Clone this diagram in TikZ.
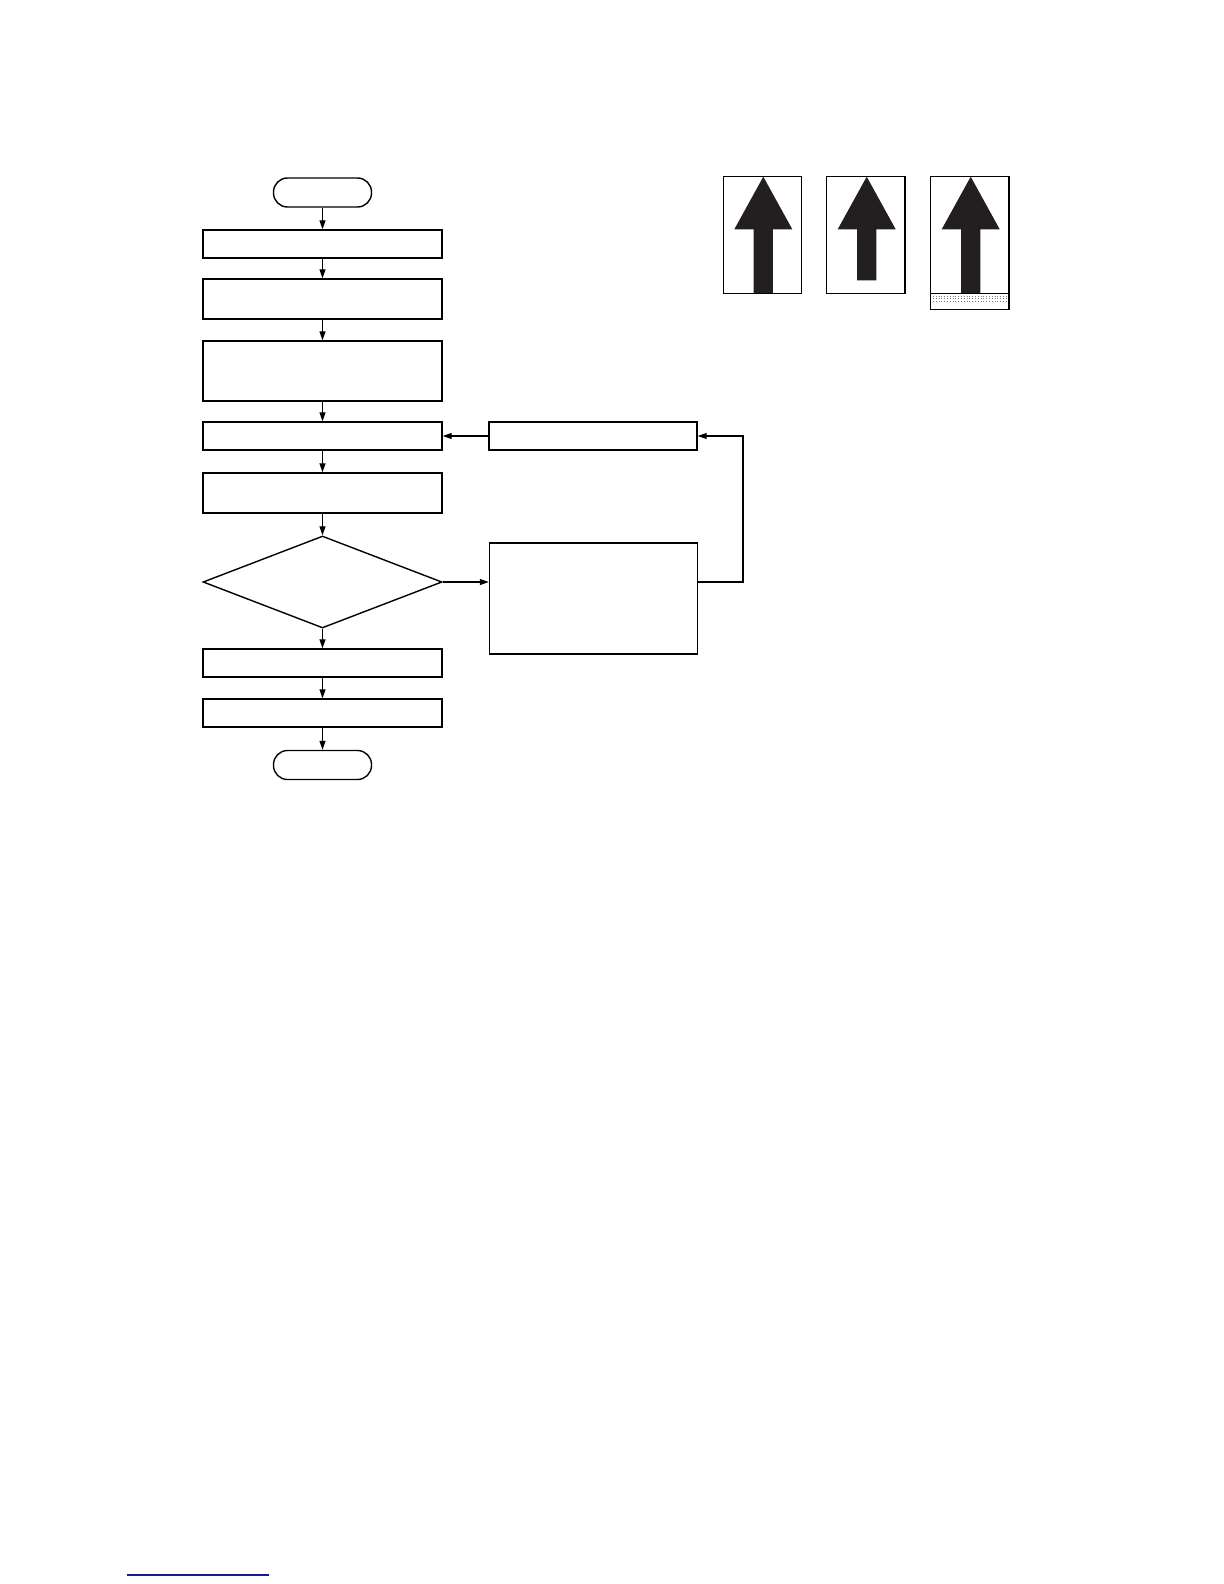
\documentclass[tikz,border=0pt]{standalone}
\usetikzlibrary{shapes.geometric, positioning, arrows.meta}

\definecolor{signblack}{RGB}{35,31,32}
\definecolor{linkblue}{RGB}{25,25,150}

\tikzset{
  flowbox/.style={draw, line width=0.7pt, minimum width=119.5pt, inner sep=0pt},
  termbox/.style={draw, line width=0.7pt, rounded corners=7pt, minimum width=49pt, minimum height=14.5pt, inner sep=0pt},
  decbox/.style={draw, diamond, line width=0.7pt, minimum width=119.5pt, minimum height=46pt, inner sep=0pt},
  sidebox/.style={draw, line width=0.7pt, minimum width=104pt, inner sep=0pt},
  flowarrow/.style={-{Triangle[length=4.5pt,width=3pt]}, line width=0.6pt},
}

\begin{document}
\begin{tikzpicture}[x=0.5pt, y=-0.5pt]
    \useasboundingbox (0,0) rectangle (1224,1584);

    % --- Main column ---
    \node[termbox] (start) at (322.5,192.5) {};
    \node[flowbox, minimum height=14pt] (boxa) at (322.5,244) {};
    \node[flowbox, minimum height=20pt] (boxb) at (322.5,299) {};
    \node[flowbox, minimum height=30pt] (boxc) at (322.5,371) {};
    \node[flowbox, minimum height=14pt] (boxd) at (322.5,436) {};
    \node[flowbox, minimum height=20pt] (boxe) at (322.5,493) {};
    \node[decbox] (test) at (322.5,582) {};
    \node[flowbox, minimum height=14pt] (boxf) at (322.5,663) {};
    \node[flowbox, minimum height=14pt] (boxg) at (322.5,713) {};
    \node[termbox] (stop) at (322.5,765) {};

    \foreach \a/\b in {start/boxa, boxa/boxb, boxb/boxc, boxc/boxd, boxd/boxe,
                       boxe/test, test/boxf, boxf/boxg, boxg/stop}
        \draw[flowarrow] (\a) -- (\b);

    % --- Side loop ---
    \node[sidebox, minimum height=14pt] (redo) at (593,436) {};
    \node[sidebox, minimum height=55.5pt] (remedy) at (593.5,598.5) {};
    \coordinate (loopc) at (743,582);

    \draw[flowarrow] (test.east) -- (test.east -| remedy.west);
    \draw[flowarrow] (test.east -| remedy.east) -- (loopc) |- (redo.east);
    \draw[flowarrow] (redo.west) -- (boxd.east);

    % --- Arrow signs ---
    \foreach \tx/\bot in {763.3/293.3, 866.7/280.3, 970.7/293.3} {
        \fill[signblack] (\tx,176.7) -- (\tx+29,229.3) -- (\tx+9.6,229.3) -- (\tx+9.6,\bot)
            -- (\tx-9.6,\bot) -- (\tx-9.6,229.3) -- (\tx-29,229.3) -- cycle;
        \draw[line width=0.7pt] (\tx-40,176.7) rectangle (\tx+38.4,293.3);
    }
    % strip under the third sign
    \draw[line width=0.7pt] (930.7,293.3) rectangle (1009.1,309.3);
    \foreach \y in {296.3, 298.7, 301.1}
        \draw[gray, line width=0.5pt, dash pattern=on 0.5pt off 0.9pt] (933,\y) -- (1007,\y);

    % --- Link underline ---
    \draw[linkblue, line width=1pt] (127,1575) -- (269,1575);
\end{tikzpicture}
\end{document}
